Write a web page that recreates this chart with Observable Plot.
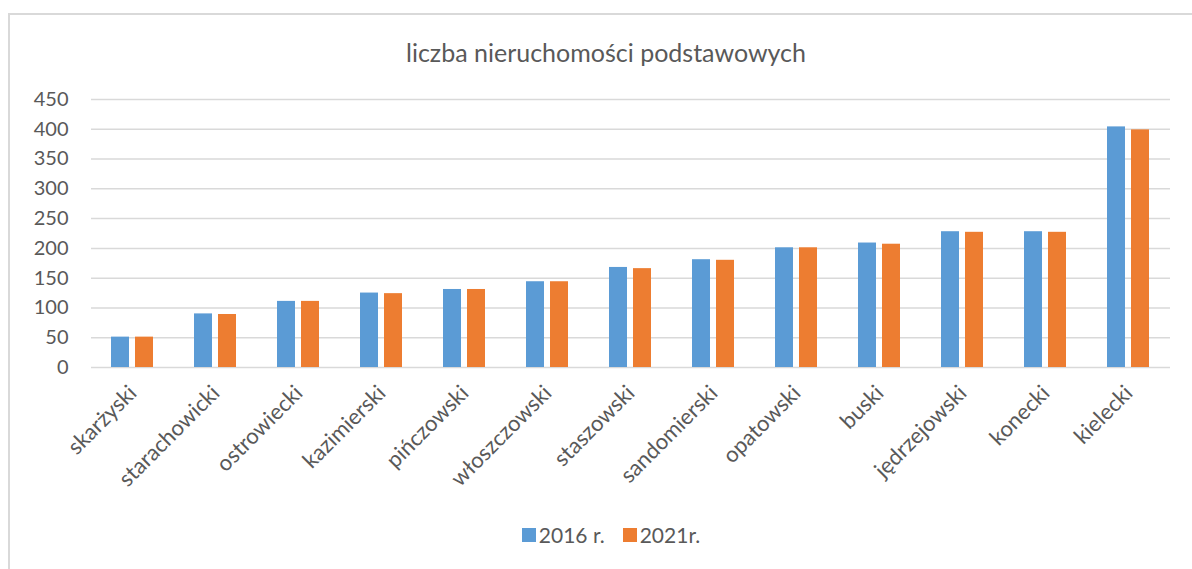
<!DOCTYPE html>
<html>
<head>
<meta charset="utf-8">
<script src="https://cdn.jsdelivr.net/npm/d3@7"></script>
<script src="https://cdn.jsdelivr.net/npm/@observablehq/plot@0.6"></script>
<style>
  html, body { margin: 0; padding: 0; background: #fff; overflow: hidden; }
  body { width: 1192px; height: 569px; position: relative; font-family: Lato, "Noto Sans", sans-serif; color: #595959; }
  #frame { position: absolute; left: 8px; top: 13px; width: 1300px; height: 700px; border-top: 2px solid #d9d9d9; border-left: 2px solid #d9d9d9; }
  #title { position: absolute; left: 0; width: 1212px; top: 37px; line-height: 30px; font-size: 25px; text-align: center; }
  #chart { position: absolute; left: 0; top: 80px; }
  #legend { position: absolute; left: 0; width: 1222px; top: 523px; line-height: 24px; font-size: 21px; display: flex; justify-content: center; align-items: center; gap: 0; }
  .item { display: flex; align-items: center; margin: 0 9px; }
  .sw { width: 14px; height: 14px; margin-right: 3px; }
</style>
</head>
<body>
<div id="frame"></div>
<div id="title">liczba nieruchomości podstawowych</div>
<div id="chart"></div>
<div id="legend"></div>
<script>
const categories = ["skarżyski", "starachowicki", "ostrowiecki", "kazimierski", "pińczowski", "włoszczowski", "staszowski", "sandomierski", "opatowski", "buski", "jędrzejowski", "konecki", "kielecki"];
const values2016 = [51, 90, 111, 125, 131, 144, 168, 181, 201, 209, 228, 228, 404];
const values2021 = [51, 89, 111, 124, 131, 144, 166, 180, 201, 207, 227, 227, 399];
const seriesNames = ["2016 r.", "2021r."];
const seriesColors = ["#5B9BD5", "#ED7D31"];
const yTicks = [0, 50, 100, 150, 200, 250, 300, 350, 400, 450];

const data = [];
categories.forEach((c, i) => {
  data.push({cat: c, series: seriesNames[0], value: values2016[i]});
  data.push({cat: c, series: seriesNames[1], value: values2021[i]});
});

const chart = Plot.plot({
  width: 1192,
  height: 430,
  marginLeft: 85,
  marginRight: 17,
  marginTop: 19,
  marginBottom: 143,
  style: {fontFamily: "Lato, 'Noto Sans', sans-serif", fontSize: "20px", color: "#595959", background: "transparent"},
  fx: {domain: categories, padding: 0, label: null},
  x: {domain: seriesNames, axis: null, paddingInner: 0.245, paddingOuter: 0.83},
  y: {domain: [0, 450], label: null},
  color: {domain: seriesNames, range: seriesColors},
  marks: [
    Plot.ruleY(yTicks, {stroke: "#d9d9d9", strokeWidth: 1.5}),
    Plot.barY(data, {fx: "cat", x: "series", y: "value", fill: "series"}),
    Plot.axisY(yTicks, {tickSize: 0, tickPadding: 23, fontSize: 20, label: null}),
    Plot.axisFx({anchor: "bottom", tickRotate: -45, tickSize: 0, tickPadding: 22, fontSize: 22, label: null})
  ]
});
document.getElementById("chart").appendChild(chart);

const legend = document.getElementById("legend");
seriesNames.forEach((s, i) => {
  const item = document.createElement("div");
  item.className = "item";
  const sw = document.createElement("span");
  sw.className = "sw";
  sw.style.background = seriesColors[i];
  const t = document.createElement("span");
  t.textContent = s;
  item.appendChild(sw);
  item.appendChild(t);
  legend.appendChild(item);
});
</script>
</body>
</html>
